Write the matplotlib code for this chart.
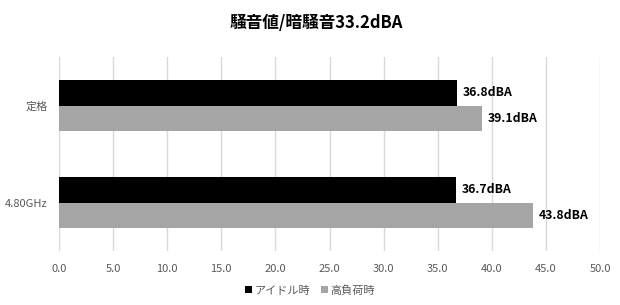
import matplotlib.pyplot as plt
import numpy as np

plt.rcParams['font.family'] = ['Noto Sans CJK JP', 'DejaVu Sans']

# data
categories = ['定格', '4.80GHz']
idle = [36.8, 36.7]
load = [39.1, 43.8]
series_names = ['アイドル時', '高負荷時']
colors = ['#000000', '#a5a5a5']

fig = plt.figure(figsize=(6.2, 3.05), dpi=100)
ax = fig.add_axes([0.095, 0.177, 0.873, 0.636])

y = np.arange(len(categories))
h = 0.263
b1 = ax.barh(y - h / 2, idle, height=h, color=colors[0], label=series_names[0])
b2 = ax.barh(y + h / 2, load, height=h, color=colors[1], label=series_names[1])

# value labels
for bars in (b1, b2):
    for bar in bars:
        v = bar.get_width()
        ax.text(v + 0.5, bar.get_y() + bar.get_height() / 2, f'{v:.1f}dBA',
                va='center', ha='left', fontsize=8.8, fontweight='bold', color='black')

ax.set_xlim(0, 50)
ax.set_ylim(1.5, -0.5)
ax.set_xticks(np.arange(0, 50.1, 5))
ax.set_xticklabels([f'{t:.1f}' for t in np.arange(0, 50.1, 5)])
ax.set_yticks(y)
ax.set_yticklabels(categories)
ax.tick_params(axis='both', length=0, labelsize=8, labelcolor='#595959')
ax.tick_params(axis='x', pad=9)
ax.tick_params(axis='y', pad=8)

ax.grid(axis='x', color='#d9d9d9', linewidth=1)
ax.set_axisbelow(True)
for s in ax.spines.values():
    s.set_visible(False)

fig.suptitle('騒音値/暗騒音33.2dBA', x=0.51, y=0.955, fontsize=12, fontweight='bold', color='black')

fig.legend(loc='center', bbox_to_anchor=(0.5, 0.048), ncol=2, frameon=False,
           fontsize=8, labelcolor='#595959', handlelength=0.6, handleheight=0.6,
           handletextpad=0.2, columnspacing=1.0)

plt.savefig('out.png', dpi=100)
